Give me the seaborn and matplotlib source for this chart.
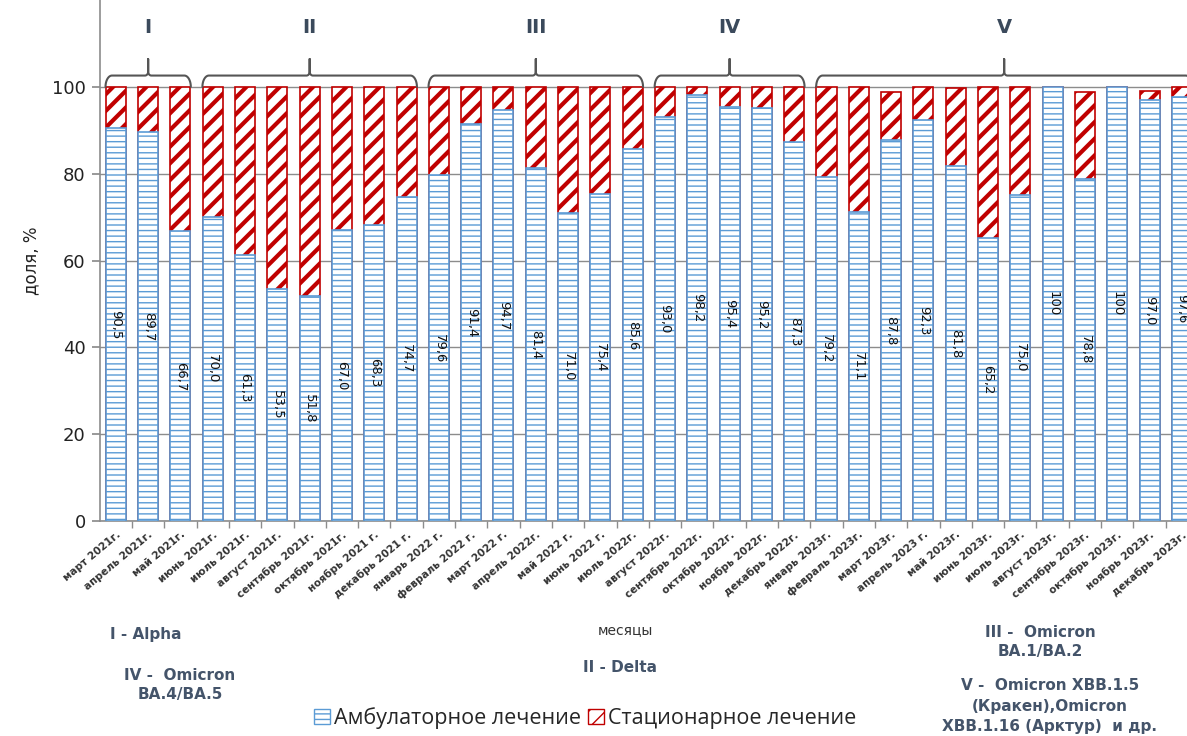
import numpy as np
import pandas as pd
import matplotlib
matplotlib.use("Agg")
import matplotlib.pyplot as plt
import seaborn as sns
from matplotlib.patches import Patch

# Monthly share of COVID-19 treatment type, %
months = [
    "март 2021г.", "апрель 2021г.", "май 2021г.", "июнь 2021г.", "июль 2021г.",
    "август 2021г.", "сентябрь 2021г.", "октябрь 2021г.", "ноябрь 2021 г.",
    "декабрь 2021 г.", "январь 2022 г.", "февраль 2022 г.", "март 2022 г.",
    "апрель 2022г.", "май 2022 г.", "июнь 2022 г.", "июль 2022г.",
    "август 2022г.", "сентябрь 2022г.", "октябрь 2022г.", "ноябрь 2022г.",
    "декабрь 2022г.", "январь 2023г.", "февраль 2023г.", "март 2023г.",
    "апрель 2023 г.", "май 2023г.", "июнь 2023г.", "июль 2023г.",
    "август 2023г.", "сентябрь 2023г.", "октябрь 2023г.", "ноябрь 2023г.",
    "декабрь 2023г.",
]
outpatient = [
    90.5, 89.7, 66.7, 70.0, 61.3, 53.5, 51.8, 67.0, 68.3, 74.7,
    79.6, 91.4, 94.7, 81.4, 71.0, 75.4, 85.6, 93.0, 98.2, 95.4, 95.2, 87.3,
    79.2, 71.1, 87.8, 92.3, 81.8, 65.2, 75.0, 100.0, 78.8, 100.0, 97.0, 97.6,
]
inpatient = [
    9.5, 10.3, 33.3, 30.0, 38.7, 46.5, 48.2, 33.0, 31.7, 25.3,
    20.4, 8.6, 5.3, 18.6, 29.0, 24.6, 14.4, 7.0, 1.8, 4.6, 4.8, 12.7,
    20.8, 28.9, 11.0, 7.7, 18.0, 34.8, 25.0, 0.0, 20.0, 0.0, 2.1, 2.4,
]
# Virus variant periods: (label, first month index, last month index)
periods = [("I", 0, 2), ("II", 3, 9), ("III", 10, 16), ("IV", 17, 21), ("V", 22, 33)]

df = pd.DataFrame({"month": months, "outpatient": outpatient, "inpatient": inpatient})
df["total"] = df["outpatient"] + df["inpatient"]

BLUE = "#5b9bd5"
RED = "#c00000"
ANN = "#44546a"

sns.set_theme(style="white")
plt.rcParams["font.family"] = ["DejaVu Sans"]

fig = plt.figure(figsize=(11.87, 7.36), dpi=100)
ax = fig.add_axes([0.084, 0.292, 0.916, 0.708])

bw = 0.62
# stacked look: full total in red hatch, outpatient share drawn on top
sns.barplot(data=df, x="month", y="total", order=months, color="white",
            edgecolor=RED, linewidth=1.2, hatch="//", width=bw, ax=ax, zorder=2)
n_red = len(ax.patches)
for p in ax.patches[:n_red]:
    p.set_hatch_linewidth(3.0)
sns.barplot(data=df, x="month", y="outpatient", order=months, color="white",
            edgecolor=BLUE, linewidth=1.2, hatch="---", width=bw, ax=ax, zorder=3)
for p in ax.patches[n_red:]:
    p.set_hatch_linewidth(1.0)

# value labels, centred in the outpatient bar
for i, v in enumerate(outpatient):
    txt = "100" if v == 100 else f"{v:.1f}".replace(".", ",")
    ax.text(i, v / 2, txt, rotation=-90, ha="center", va="center",
            fontsize=9.5, color="#111111", zorder=5)

ax.set_ylim(0, 120)
ax.set_xlim(-0.5, 33.16)
ax.set_yticks([0, 20, 40, 60, 80, 100])
ax.set_yticklabels(["0", "20", "40", "60", "80", "100"], fontsize=13, color="#222222")
ax.yaxis.grid(True, color="#8c8c8c", linewidth=1.0, zorder=0)
ax.set_axisbelow(True)
ax.tick_params(axis="y", length=6, color="#8c8c8c", direction="out", left=True, pad=4)
ax.set_ylabel("доля, %", fontsize=12, color="#222222", labelpad=8)
ax.set_xlabel("")

ax.set_xticks(range(len(months)))
ax.set_xticklabels(months, rotation=40, ha="right", rotation_mode="anchor",
                   fontsize=7.5, fontweight="bold", color="#333333")
ax.tick_params(axis="x", which="major", length=0, pad=6)
ax.set_xticks(np.arange(0.5, len(months) - 0.5, 1), minor=True)
ax.tick_params(axis="x", which="minor", length=5, color="#8c8c8c", bottom=True)

for s in ["top", "right"]:
    ax.spines[s].set_visible(False)
for s in ["left", "bottom"]:
    ax.spines[s].set_color("#8c8c8c")
    ax.spines[s].set_linewidth(1.2)


def brace(x0, x1, y0=100.0, y1=102.6, tip=106.4, r=0.2, rt=0.1):
    """Horizontal curly brace opening downward, from x0 to x1."""
    xm = (x0 + x1) / 2
    t = np.linspace(0, np.pi / 2, 20)
    # left end: quarter curve rising into the horizontal bar
    xs = list(x0 + r * (1 - np.cos(t)))
    ys = list(y0 + (y1 - y0) * np.sin(t))
    # horizontal run, then a short curl up into the tip
    xs += list(xm - rt + rt * np.sin(t))
    ys += list(y1 + 0.9 * (1 - np.cos(t)))
    xs += [xm]
    ys += [tip]
    xs2 = [2 * xm - x for x in xs[::-1]]
    ys2 = ys[::-1]
    ax.plot(xs + xs2, ys + ys2, color="#555555", lw=1.5, clip_on=False, zorder=4,
            solid_capstyle="round", solid_joinstyle="round")


for lab, a, b in periods:
    x0 = a - 0.32
    x1 = b + 0.32
    brace(x0, x1)
    ax.text((x0 + x1) / 2, 113.6, lab, ha="center", va="center", fontsize=14,
            fontweight="bold", color="#3b4a5c", zorder=5)

# notes below the axis
fig.text(625 / 1187, 1 - 630 / 736, "месяцы", ha="center", va="center",
         fontsize=10, color="#333333")
fig.text(110 / 1187, 1 - 635 / 736, "I - Alpha", ha="left", va="center",
         fontsize=11, fontweight="bold", color=ANN)
fig.text(180 / 1187, 1 - 685 / 736, "IV -  Omicron\nBA.4/BA.5", ha="center",
         va="center", fontsize=11, fontweight="bold", color=ANN, linespacing=1.3)
fig.text(620 / 1187, 1 - 668 / 736, "II - Delta", ha="center", va="center",
         fontsize=11, fontweight="bold", color=ANN)
fig.text(1040 / 1187, 1 - 642 / 736, "III -  Omicron\nBA.1/BA.2", ha="center",
         va="center", fontsize=11, fontweight="bold", color=ANN, linespacing=1.3)
fig.text(1050 / 1187, 1 - 706 / 736,
         "V -  Omicron XBB.1.5\n(Кракен),Omicron\nXBB.1.16 (Арктур)  и др.",
         ha="center", va="center", fontsize=11, fontweight="bold", color=ANN,
         linespacing=1.45)

handles = [
    Patch(facecolor="white", edgecolor=BLUE, hatch="---", label="Амбулаторное лечение"),
    Patch(facecolor="white", edgecolor=RED, hatch="//", label="Стационарное лечение"),
]
fig.legend(handles=handles, loc="center", bbox_to_anchor=(585 / 1187, 1 - 718 / 736),
           ncol=2, frameon=False, handlelength=0.75, handleheight=0.75,
           handletextpad=0.2, columnspacing=0.3,
           prop={"family": "Open Sans", "size": 15.5})

fig.savefig("out.png", dpi=100)
